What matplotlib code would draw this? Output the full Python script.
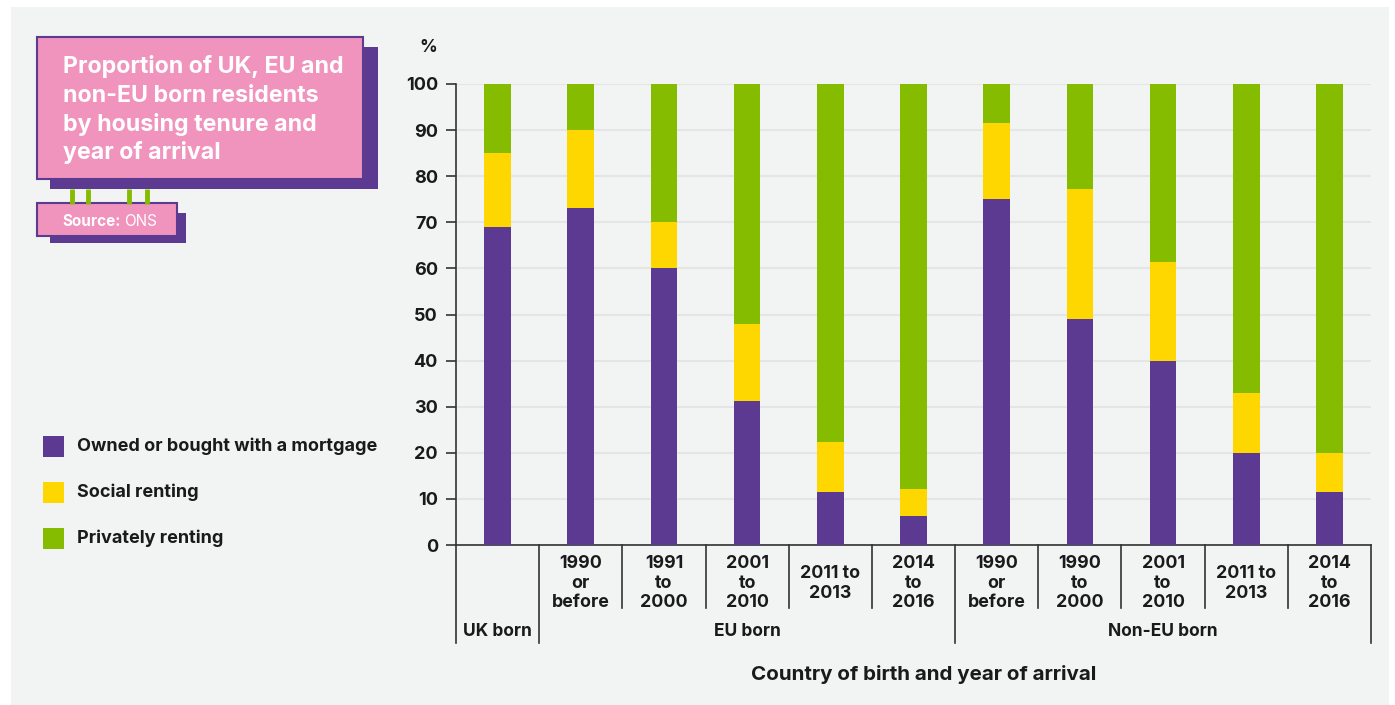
import numpy as np
import matplotlib
matplotlib.use('Agg')
from matplotlib import pyplot as plt
from matplotlib.patches import Rectangle
import matplotlib.transforms as mtransforms

plt.rcParams['font.family'] = ['Inter', 'DejaVu Sans']

# データ
categories = ['', '1990\nor\nbefore', '1991\nto\n2000', '2001\nto\n2010', '2011 to\n2013', '2014\nto\n2016',
              '1990\nor\nbefore', '1990\nto\n2000', '2001\nto\n2010', '2011 to\n2013', '2014\nto\n2016']
groups = ['UK born', 'EU born', 'Non-EU born']
group_sizes = [1, 5, 5]
owned = [69, 73, 60, 31.3, 11.6, 6.3, 75, 49, 40, 20, 11.4]
social = [16, 17, 10, 16.7, 10.8, 5.8, 16.6, 28.3, 21.3, 13, 8.5]
private = [15, 10, 30, 52, 77.6, 87.9, 8.4, 22.7, 38.7, 67, 80.1]
series_names = ['Owned or bought with a mortgage', 'Social renting', 'Privately renting']
yticks = [0, 10, 20, 30, 40, 50, 60, 70, 80, 90, 100]

PURPLE = '#5c3a92'
YELLOW = '#ffd700'
GREEN = '#86bc00'
PINK = '#f093bd'
BG = '#f2f4f3'
DARK = '#1a1a1a'
colors = [PURPLE, YELLOW, GREEN]

W, H = 1395, 705
fig = plt.figure(figsize=(W / 100, H / 100), dpi=100)
fig.patch.set_facecolor('white')

# 背景・タイトル・凡例用のピクセル座標の軸
bg = fig.add_axes([0, 0, 1, 1], zorder=0)
bg.set_xlim(0, W)
bg.set_ylim(H, 0)
bg.axis('off')
bg.add_patch(Rectangle((11, 7), 1378, 698, color=BG, lw=0))

# タイトルボックス
bg.add_patch(Rectangle((50, 47), 328, 142, color=PURPLE, lw=0))
bg.add_patch(Rectangle((37, 37), 326, 142, facecolor=PINK, edgecolor=PURPLE, lw=1.5))
for gx in [72, 88, 129, 147]:
    bg.plot([gx, gx], [189, 204], color=GREEN, lw=3.5, solid_capstyle='butt')
bg.add_patch(Rectangle((50, 213), 136, 30, color=PURPLE, lw=0))
bg.add_patch(Rectangle((37, 203), 140, 33, facecolor=PINK, edgecolor=PURPLE, lw=1.5))
title_lines = ['Proportion of UK, EU and', 'non-EU born residents', 'by housing tenure and', 'year of arrival']
for i, line in enumerate(title_lines):
    bg.text(63, 67 + i * 28.5, line, color='white', fontsize=16.7, fontweight='bold', va='center', ha='left')
bg.text(62, 221, 'Source:', color='white', fontsize=11, fontweight='bold', va='center', ha='left')
bg.text(124, 221, 'ONS', color='white', fontsize=11, va='center', ha='left')

# 凡例
for i, (name, c) in enumerate(zip(series_names, colors)):
    y0 = 436 + i * 46
    bg.add_patch(Rectangle((43, y0), 21, 21, color=c, lw=0))
    bg.text(77, y0 + 10.5, name, color=DARK, fontsize=13, fontweight='bold', va='center', ha='left')

bg.text(428, 47, '%', color=DARK, fontsize=12.5, fontweight='bold', va='center', ha='center')

# メインの棒グラフ
ax = fig.add_axes([456 / W, (H - 545) / H, (1371 - 456) / W, (545 - 84) / H], zorder=1)
ax.set_facecolor('none')
x = np.arange(len(categories))
bw = 0.32
ax.bar(x, owned, bw, color=PURPLE, zorder=3)
ax.bar(x, social, bw, bottom=owned, color=YELLOW, zorder=3)
ax.bar(x, private, bw, bottom=np.array(owned) + np.array(social), color=GREEN, zorder=3)

ax.set_xlim(-0.5, len(categories) - 0.5)
ax.set_ylim(0, 100)
ax.set_yticks(yticks)
ax.set_yticklabels([str(t) for t in yticks], fontsize=13, fontweight='bold', color=DARK)
ax.tick_params(axis='y', length=7, width=1.2, color='#333333', pad=6)
ax.set_xticks([])
ax.grid(axis='y', color='#e4e6e5', lw=1.5, zorder=0)
for s in ['top', 'right']:
    ax.spines[s].set_visible(False)
ax.spines['left'].set_color('#333333')
ax.spines['left'].set_linewidth(1.2)
ax.spines['bottom'].set_color('#333333')
ax.spines['bottom'].set_linewidth(1.2)

# x軸のカテゴリーラベルと区切り線
trans = mtransforms.blended_transform_factory(ax.transData, ax.transAxes)
for xi, lab in zip(x, categories):
    ax.text(xi, -0.083, lab, transform=trans, ha='center', va='center', fontsize=12.8,
            fontweight='bold', color=DARK, linespacing=1.2)

boundaries = np.concatenate([[0], np.cumsum(group_sizes)]) - 0.5
for b in np.arange(-0.5, len(categories)):
    long_line = np.any(np.isclose(boundaries, b))
    y_end = -0.2126 if long_line else -0.1367
    ax.plot([b, b], [0, y_end], transform=trans, color='#333333', lw=1.2, clip_on=False)

for g, s, e in zip(groups, boundaries[:-1], boundaries[1:]):
    ax.text((s + e) / 2, -0.1866, g, transform=trans, ha='center', va='center', fontsize=12.5,
            fontweight='bold', color=DARK)

fig.text(924 / W, 1 - 675 / H, 'Country of birth and year of arrival', ha='center', va='center',
         fontsize=14.8, fontweight='bold', color=DARK)

plt.savefig('out.png', dpi=100)
